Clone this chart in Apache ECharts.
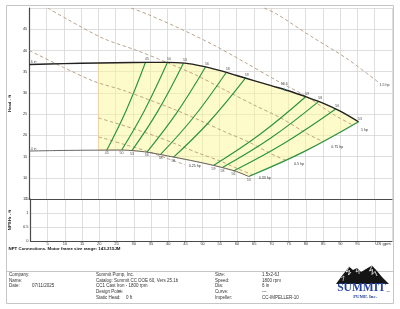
<!DOCTYPE html>
<html><head><meta charset="utf-8">
<script src="https://cdn.jsdelivr.net/npm/echarts/dist/echarts.min.js"></script>
<style>html,body{margin:0;padding:0;background:#fff;}#c{width:400px;height:309px;}</style>
</head><body><div id="c"></div>
<script>
// ---------- DATA ----------
const xTickLabels = [5,10,15,20,25,30,35,40,45,50,55,60,65,70,75,80,85,90,95];
const headTickLabels = [5,10,15,20,25,30,35,40,45];
const npshTickLabels = [0,0.5,1,1.5];

// 6 in impeller curve (US gpm, ft)
const flowTop = [0,10,20,30,40,45,50,55,60,65,70,75,80,85,90,95.3];
const headTop = [36.7,36.9,37.05,37.15,37.2,37.0,36.3,35.3,34.1,32.9,31.7,30.5,29.1,27.6,25.7,23.2];
// 4 in impeller curve
const flowBot = [0,6.7,13.3,20,26.7,33.3,40,46.7,53.3,60,63.5];
const headBot = [16.3,16.4,16.47,16.51,16.53,16.13,15.16,14.09,12.93,11.47,10.31];

// efficiency lines (%)
const effNames = ['45','50','53','56','58','59','59','58','56','53'];
const effTopQ = [33.6,40,44.6,51,57,62.5,80,83.8,88.7,95.3];
const effTopH = [37.17,37.2,37.0,36.1,34.8,33.4,29.1,28.0,26.2,23.2];
const effMidQ = [28.0,33.3,37.2,42.5,47.5,52.1,66.7,69.8,73.9,79.4];
const effMidH = [25.8,25.8,25.7,25.1,24.2,23.2,20.2,19.3,18.2,16.1];
const effBotQ = [22.4,26.7,29.7,34.0,38.0,41.7,53.3,55.9,59.1,63.5];
const effBotH = [16.5,16.5,16.4,16.0,15.5,14.8,12.9,12.4,11.6,10.3];
const bepQ = 73.8, bepH = 30.8, bepLabel = '59.6';

// power lines (hp)
const hpNames = ['1.5 hp','1 hp','0.75 hp','0.5 hp','0.33 hp','0.25 hp'];
const hp15Q = [68.0,71.6,81.8,91.7,101.1];
const hp15H = [50,48.6,43.2,38.2,32.5];
const hp1Q = [29.5,34.3,44.0,53.3,62.6,71.4,80.1,88.3,93.7];
const hp1H = [50,48.5,45.0,41.3,37.1,33.0,29.2,24.8,22.4];
const hp075Q = [5.3,11.3,21.5,31.1,40.0,48.5,56.8,64.9,72.8,80.2,85.1];
const hp075H = [50,47.2,42.8,40.0,37.1,34.1,30.6,27.2,24.1,20.5,18.5];
const hp05Q = [0,9.9,18.8,27.2,34.9,42.3,49.7,56.7,63.6,70.1,74.3];
const hp05H = [40.0,36.0,32.7,30.6,28.3,26.0,23.4,20.8,18.4,15.6,14.1];
const hp033Q = [20,23.7,30.4,36.9,43.2,49.3,55.4,61.0,64.7];
const hp033H = [24.1,23.2,21.5,19.7,17.7,15.7,13.9,11.9,10.7];
const hp025Q = [20,21.6,27.7,33.6,39.4,45.0];
const hp025H = [19.6,19.3,17.8,16.4,14.7,13.1];

const minFlow = 20;
const curveNames = ['6 in','4 in'];

const footLeft = [['Company:',''],['Name:',''],['Date:','07/11/2025']];
const footMid = [['Summit Pump, Inc.',''],['Catalog: Summit CC DOE 60, Vers 25.1b',''],['CC1 Cast Iron - 1800 rpm',''],['Design Point:','---'],['Static Head:','0 ft']];
const footRight = [['Size:','1.5x2-6J'],['Speed:','1800 rpm'],['Dia:','6 in'],['Curve:','---'],['Impeller:','CC-IMPELLER-10']];
const noteText = 'NPT Connections. Motor frame size range: 143-215JM';

// ---------- BUILD ----------
const zip = (a,b) => a.map((v,i)=>[v,b[i]]);
const FONT = 'Liberation Sans';

// yellow operating region polygon
const poly = [];
flowTop.forEach((q,i)=>{ if(q>=minFlow) poly.push([q,headTop[i]]); });
const last = effNames.length-1;
poly.push([effMidQ[last],effMidH[last]]);
for(let i=flowBot.length-1;i>=0;i--){ if(flowBot[i]>=minFlow) poly.push([flowBot[i],headBot[i]]); }

const series = [];
series.push({
  type:'custom', xAxisIndex:0, yAxisIndex:0, silent:true, z:1,
  data: poly,
  renderItem:(params, api)=>{
    if(params.dataIndex!==0) return;
    const pts = poly.map(p=>api.coord(p));
    return {type:'polygon', shape:{points:pts}, style:{fill:'rgba(253,247,150,0.5)', stroke:'#f0cfa0', lineWidth:0.8}};
  }
});

const hpQ = [hp15Q,hp1Q,hp075Q,hp05Q,hp033Q,hp025Q];
const hpH = [hp15H,hp1H,hp075H,hp05H,hp033H,hp025H];
const hpOff = [[0,3],[7,5],[7,5],[7,4],[5,3],[3,1]];
hpQ.forEach((qs,k)=>{
  series.push({
    type:'line', xAxisIndex:0, yAxisIndex:0, data: zip(qs,hpH[k]), smooth:0.3,
    showSymbol:false, symbol:'none', silent:true, z:3,
    lineStyle:{color:'#b39a7e', width:0.9, type:[3.5,2.5]},
    endLabel:{show:true, formatter:hpNames[k], fontSize:3.6, fontFamily:FONT, color:'#333', distance:1, offset:hpOff[k]}
  });
});

effNames.forEach((n,i)=>{
  series.push({
    type:'line', xAxisIndex:0, yAxisIndex:0,
    data:[[effBotQ[i],effBotH[i]],[effMidQ[i],effMidH[i]],[effTopQ[i],effTopH[i]]],
    smooth:0.4, showSymbol:false, symbol:'none', silent:true, z:4,
    lineStyle:{color:'#2a9440', width:1.15}
  });
});

series.push({
  type:'line', xAxisIndex:0, yAxisIndex:0, data:zip(flowTop,headTop), smooth:0.3,
  showSymbol:false, symbol:'none', silent:true, z:5, lineStyle:{color:'#222', width:1.4}
});
series.push({
  type:'line', xAxisIndex:0, yAxisIndex:0, data:zip(flowBot,headBot), smooth:0.3,
  showSymbol:false, symbol:'none', silent:true, z:5, lineStyle:{color:'#666', width:1}
});

const lblStyle = {fontSize:3.5, fontFamily:FONT, color:'#222'};
series.push({
  type:'scatter', xAxisIndex:0, yAxisIndex:0, symbolSize:0, silent:true, z:6,
  data: effNames.map((n,i)=>({value:[effTopQ[i],effTopH[i]], name:n})),
  label:Object.assign({show:true, formatter:'{b}', position:'top', distance:1, offset:[1.5,0]}, lblStyle)
});
series.push({
  type:'scatter', xAxisIndex:0, yAxisIndex:0, symbolSize:0, silent:true, z:6,
  data: effNames.map((n,i)=>({value:[effBotQ[i],effBotH[i]], name:n})),
  label:Object.assign({show:true, formatter:'{b}', position:'bottom', distance:1.2}, lblStyle)
});
series.push({
  type:'scatter', xAxisIndex:0, yAxisIndex:0, symbol:'rect', symbolSize:[0.9,3.5], silent:true, z:6,
  itemStyle:{color:'#3a9fa0'},
  data:[{value:[bepQ,bepH], name:bepLabel}],
  label:Object.assign({show:true, formatter:'{b}', position:'top', distance:2}, lblStyle)
});
series.push({
  type:'scatter', xAxisIndex:0, yAxisIndex:0, symbolSize:0, silent:true, z:6,
  data:[{value:[flowTop[0],headTop[0]], name:curveNames[0]},{value:[flowBot[0],headBot[0]], name:curveNames[1]}],
  label:Object.assign({show:true, formatter:'{b}', position:'right', distance:1.5, offset:[0,-2.5]}, lblStyle)
});

const axisLineStyle = {color:'#4a4a4a', width:1.2};
const splitStyle = {color:'#d6d6d6', width:0.8};
const tickFont = {fontSize:4, fontFamily:FONT, color:'#333'};

const option = {
  animation:false,
  backgroundColor:'#fff',
  grid:[
    {left:21.5, top:8, width:370.5, height:191},
    {left:21.5, top:199, width:370.5, height:42}
  ],
  xAxis:[
    {gridIndex:0, type:'value', min:0, max:105, interval:5,
     axisLine:{show:true, onZero:false, lineStyle:axisLineStyle}, axisTick:{show:false},
     axisLabel:{show:false}, splitLine:{show:true, lineStyle:splitStyle}},
    {gridIndex:1, type:'value', min:0, max:105, interval:5,
     axisLine:{show:true, onZero:false, lineStyle:axisLineStyle}, axisTick:{show:false},
     axisLabel:Object.assign({show:true, margin:0.5, formatter:v=>xTickLabels.includes(v)?String(v):''}, tickFont),
     splitLine:{show:true, lineStyle:splitStyle},
     name:'US gpm', nameLocation:'end', nameGap:-9,
     nameTextStyle:{fontSize:4.3, fontFamily:FONT, color:'#333', align:'center', verticalAlign:'top', padding:[1,0,0,0]}}
  ],
  yAxis:[
    {gridIndex:0, type:'value', min:5, max:50, interval:5,
     axisLine:{show:true, lineStyle:axisLineStyle}, axisTick:{show:false},
     axisLabel:Object.assign({show:true, margin:2, formatter:v=>headTickLabels.includes(v)?String(v):''}, tickFont),
     splitLine:{show:true, lineStyle:splitStyle},
     name:'Head - ft', nameLocation:'middle', nameGap:8,
     nameTextStyle:{fontSize:4.3, fontFamily:FONT, fontWeight:'bold', color:'#222'}},
    {gridIndex:1, type:'value', min:0, max:1.5, interval:0.5,
     axisLine:{show:true, lineStyle:axisLineStyle}, axisTick:{show:false},
     axisLabel:Object.assign({show:true, margin:2, formatter:v=>npshTickLabels.includes(v)?String(v):''}, tickFont),
     splitLine:{show:true, lineStyle:splitStyle},
     name:'NPSHr - ft', nameLocation:'middle', nameGap:8,
     nameTextStyle:{fontSize:4.3, fontFamily:FONT, fontWeight:'bold', color:'#222'}}
  ],
  series: series
};

// footer / frame graphics
const g = [];
g.push({type:'rect', shape:{x:6.5,y:5.5,width:387,height:298}, style:{fill:null, stroke:'#c6c6c6', lineWidth:1}, z:0, silent:true});
g.push({type:'line', shape:{x1:6.5,y1:271.5,x2:393.5,y2:271.5}, style:{stroke:'#c6c6c6', lineWidth:1}, silent:true});
const ft = (x,y,t,extra)=>({type:'text', x:x, y:y, silent:true, z:10, style:Object.assign({text:t, fontSize:4.5, fontFamily:FONT, fill:'#333', align:'left', verticalAlign:'middle'}, extra||{})});
g.push(ft(8.5,249,noteText,{fontWeight:'bold', fill:'#111', fontSize:4.4}));
const rowsY = [274.5,280.3,286.1,291.9,297.7];
footLeft.forEach((r,i)=>{ g.push(ft(9,rowsY[i],r[0])); if(r[1]) g.push(ft(32,rowsY[i],r[1])); });
footMid.forEach((r,i)=>{ g.push(ft(96,rowsY[i],r[0])); if(r[1]) g.push(ft(i===3?118:126,rowsY[i],r[1])); });
footRight.forEach((r,i)=>{ g.push(ft(215,rowsY[i],r[0])); g.push(ft(262,rowsY[i],r[1])); });
// logo
g.push({type:'polygon', silent:true, z:10, shape:{points:[[336,284],[341,277],[345,272],[349,266.5],[353,270],[357,268],[361,272],[366,269],[372,265.5],[377,271],[382,277],[389,284]]}, style:{fill:'#141414'}});
g.push({type:'polyline', silent:true, z:11, shape:{points:[[349,267],[346,272],[349.5,270.5],[348.5,275],[351,272]]}, style:{stroke:'#fff', lineWidth:0.8, fill:null}});
g.push({type:'polyline', silent:true, z:11, shape:{points:[[372,266],[369.5,271],[372.5,269.5],[372,274.5],[375,271.5],[377,276]]}, style:{stroke:'#fff', lineWidth:0.8, fill:null}});
g.push({type:'polyline', silent:true, z:11, shape:{points:[[357,268.5],[356,272],[359,270.5],[359,274]]}, style:{stroke:'#fff', lineWidth:0.7, fill:null}});
g.push({type:'polyline', silent:true, z:11, shape:{points:[[341,278],[344,276],[343,281]]}, style:{stroke:'#fff', lineWidth:0.6, fill:null}});
g.push({type:'text', x:361.5, y:288.5, silent:true, z:11, style:{text:'SUMMIT', fontSize:11.5, fontWeight:'bold', fontFamily:'Liberation Serif', fill:'#2443a0', align:'center', verticalAlign:'middle'}});
g.push({type:'text', x:386.5, y:291, silent:true, z:11, style:{text:'TM', fontSize:2.5, fontFamily:FONT, fill:'#2443a0', align:'left', verticalAlign:'middle'}});
g.push({type:'text', x:365, y:296.8, silent:true, z:11, style:{text:'PUMP, Inc.', fontSize:4.8, fontWeight:'bold', fontFamily:'Liberation Serif', fill:'#2443a0', align:'center', verticalAlign:'middle'}});
option.graphic = g;

const chart = echarts.init(document.getElementById('c'), null, {renderer:'canvas'});
chart.setOption(option);
</script></body></html>
